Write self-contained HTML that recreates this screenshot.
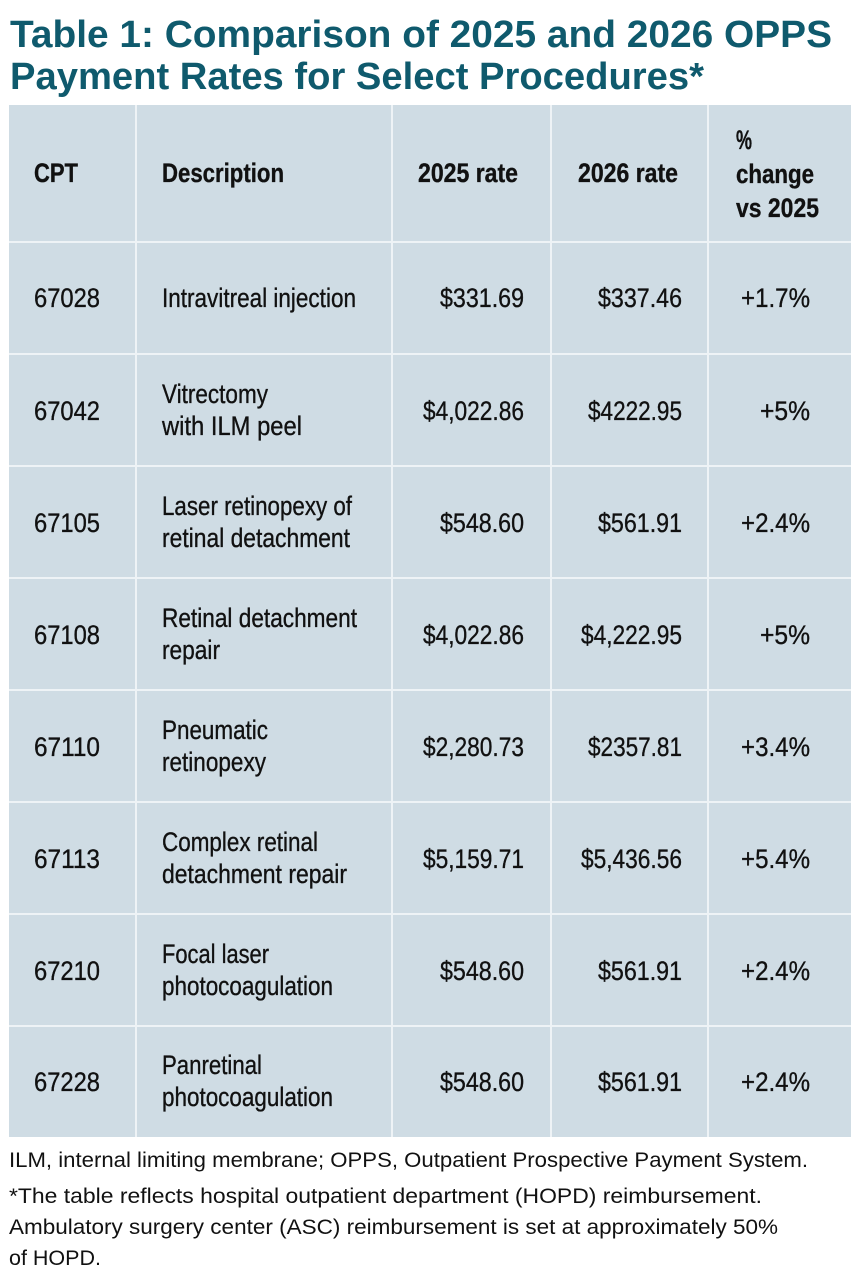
<!DOCTYPE html>
<html><head><meta charset="utf-8"><style>
html,body{margin:0;padding:0;background:#fff;}
svg{display:block;}
.t{font-family:"Liberation Sans",sans-serif;font-weight:bold;fill:#0f5a6d;font-size:38px;}
.c{font-family:"Liberation Sans Narrow","Liberation Sans",sans-serif;font-size:27px;fill:#111;stroke:#111;stroke-width:0.35;}
.h{font-weight:bold;}
.f{font-family:"Liberation Sans",sans-serif;font-size:21px;fill:#111;}
</style></head><body>
<svg width="867" height="1280" viewBox="0 0 867 1280" xmlns="http://www.w3.org/2000/svg">
<text class="t" x="10" y="47" textLength="822" lengthAdjust="spacingAndGlyphs">Table 1: Comparison of 2025 and 2026 OPPS</text>
<text class="t" x="10" y="89" textLength="694" lengthAdjust="spacingAndGlyphs">Payment Rates for Select Procedures*</text>
<rect x="9" y="105" width="842" height="1032" fill="#cfdce4"/>
<g stroke="#eef3f6" stroke-width="2">
<line x1="136" y1="105" x2="136" y2="1137"/>
<line x1="392" y1="105" x2="392" y2="1137"/>
<line x1="551" y1="105" x2="551" y2="1137"/>
<line x1="708" y1="105" x2="708" y2="1137"/>
<line x1="9" y1="242" x2="851" y2="242"/>
<line x1="9" y1="354" x2="851" y2="354"/>
<line x1="9" y1="466" x2="851" y2="466"/>
<line x1="9" y1="578" x2="851" y2="578"/>
<line x1="9" y1="690" x2="851" y2="690"/>
<line x1="9" y1="802" x2="851" y2="802"/>
<line x1="9" y1="914" x2="851" y2="914"/>
<line x1="9" y1="1026" x2="851" y2="1026"/>
</g>
<g class="c h">
<text x="34" y="182" textLength="44" lengthAdjust="spacingAndGlyphs">CPT</text>
<text x="162" y="182" textLength="122" lengthAdjust="spacingAndGlyphs">Description</text>
<text x="518" y="182" text-anchor="end" textLength="100" lengthAdjust="spacingAndGlyphs">2025 rate</text>
<text x="678" y="182" text-anchor="end" textLength="100" lengthAdjust="spacingAndGlyphs">2026 rate</text>
<text x="736" y="149" textLength="16" lengthAdjust="spacingAndGlyphs">%</text>
<text x="736" y="183" textLength="78" lengthAdjust="spacingAndGlyphs">change</text>
<text x="736" y="217" textLength="83" lengthAdjust="spacingAndGlyphs">vs 2025</text>
</g>
<g class="c">
<text x="34" y="307" textLength="66" lengthAdjust="spacingAndGlyphs">67028</text>
<text x="162" y="307" textLength="194" lengthAdjust="spacingAndGlyphs">Intravitreal injection</text>
<text x="524" y="307" text-anchor="end" textLength="84" lengthAdjust="spacingAndGlyphs">$331.69</text>
<text x="682" y="307" text-anchor="end" textLength="84" lengthAdjust="spacingAndGlyphs">$337.46</text>
<text x="810" y="307" text-anchor="end" textLength="69" lengthAdjust="spacingAndGlyphs">+1.7%</text>

<text x="34" y="420" textLength="66" lengthAdjust="spacingAndGlyphs">67042</text>
<text x="162" y="403" textLength="106" lengthAdjust="spacingAndGlyphs">Vitrectomy</text>
<text x="162" y="435" textLength="140" lengthAdjust="spacingAndGlyphs">with ILM peel</text>
<text x="524" y="420" text-anchor="end" textLength="101" lengthAdjust="spacingAndGlyphs">$4,022.86</text>
<text x="682" y="420" text-anchor="end" textLength="94" lengthAdjust="spacingAndGlyphs">$4222.95</text>
<text x="810" y="420" text-anchor="end" textLength="50" lengthAdjust="spacingAndGlyphs">+5%</text>

<text x="34" y="532" textLength="66" lengthAdjust="spacingAndGlyphs">67105</text>
<text x="162" y="515" textLength="190" lengthAdjust="spacingAndGlyphs">Laser retinopexy of</text>
<text x="162" y="547" textLength="188" lengthAdjust="spacingAndGlyphs">retinal detachment</text>
<text x="524" y="532" text-anchor="end" textLength="84" lengthAdjust="spacingAndGlyphs">$548.60</text>
<text x="682" y="532" text-anchor="end" textLength="84" lengthAdjust="spacingAndGlyphs">$561.91</text>
<text x="810" y="532" text-anchor="end" textLength="69" lengthAdjust="spacingAndGlyphs">+2.4%</text>

<text x="34" y="644" textLength="66" lengthAdjust="spacingAndGlyphs">67108</text>
<text x="162" y="627" textLength="195" lengthAdjust="spacingAndGlyphs">Retinal detachment</text>
<text x="162" y="659" textLength="58" lengthAdjust="spacingAndGlyphs">repair</text>
<text x="524" y="644" text-anchor="end" textLength="101" lengthAdjust="spacingAndGlyphs">$4,022.86</text>
<text x="682" y="644" text-anchor="end" textLength="101" lengthAdjust="spacingAndGlyphs">$4,222.95</text>
<text x="810" y="644" text-anchor="end" textLength="50" lengthAdjust="spacingAndGlyphs">+5%</text>

<text x="34" y="756" textLength="66" lengthAdjust="spacingAndGlyphs">67110</text>
<text x="162" y="739" textLength="106" lengthAdjust="spacingAndGlyphs">Pneumatic</text>
<text x="162" y="771" textLength="104" lengthAdjust="spacingAndGlyphs">retinopexy</text>
<text x="524" y="756" text-anchor="end" textLength="101" lengthAdjust="spacingAndGlyphs">$2,280.73</text>
<text x="682" y="756" text-anchor="end" textLength="94" lengthAdjust="spacingAndGlyphs">$2357.81</text>
<text x="810" y="756" text-anchor="end" textLength="69" lengthAdjust="spacingAndGlyphs">+3.4%</text>

<text x="34" y="868" textLength="66" lengthAdjust="spacingAndGlyphs">67113</text>
<text x="162" y="851" textLength="156" lengthAdjust="spacingAndGlyphs">Complex retinal</text>
<text x="162" y="883" textLength="185" lengthAdjust="spacingAndGlyphs">detachment repair</text>
<text x="524" y="868" text-anchor="end" textLength="101" lengthAdjust="spacingAndGlyphs">$5,159.71</text>
<text x="682" y="868" text-anchor="end" textLength="101" lengthAdjust="spacingAndGlyphs">$5,436.56</text>
<text x="810" y="868" text-anchor="end" textLength="69" lengthAdjust="spacingAndGlyphs">+5.4%</text>

<text x="34" y="980" textLength="66" lengthAdjust="spacingAndGlyphs">67210</text>
<text x="162" y="963" textLength="107" lengthAdjust="spacingAndGlyphs">Focal laser</text>
<text x="162" y="995" textLength="171" lengthAdjust="spacingAndGlyphs">photocoagulation</text>
<text x="524" y="980" text-anchor="end" textLength="84" lengthAdjust="spacingAndGlyphs">$548.60</text>
<text x="682" y="980" text-anchor="end" textLength="84" lengthAdjust="spacingAndGlyphs">$561.91</text>
<text x="810" y="980" text-anchor="end" textLength="69" lengthAdjust="spacingAndGlyphs">+2.4%</text>

<text x="34" y="1091" textLength="66" lengthAdjust="spacingAndGlyphs">67228</text>
<text x="162" y="1074" textLength="100" lengthAdjust="spacingAndGlyphs">Panretinal</text>
<text x="162" y="1106" textLength="171" lengthAdjust="spacingAndGlyphs">photocoagulation</text>
<text x="524" y="1091" text-anchor="end" textLength="84" lengthAdjust="spacingAndGlyphs">$548.60</text>
<text x="682" y="1091" text-anchor="end" textLength="84" lengthAdjust="spacingAndGlyphs">$561.91</text>
<text x="810" y="1091" text-anchor="end" textLength="69" lengthAdjust="spacingAndGlyphs">+2.4%</text>
</g>
<g class="f">
<text x="9" y="1167" textLength="799" lengthAdjust="spacingAndGlyphs">ILM, internal limiting membrane; OPPS, Outpatient Prospective Payment System.</text>
<text x="9" y="1203" textLength="753" lengthAdjust="spacingAndGlyphs">*The table reflects hospital outpatient department (HOPD) reimbursement.</text>
<text x="9" y="1234" textLength="769" lengthAdjust="spacingAndGlyphs">Ambulatory surgery center (ASC) reimbursement is set at approximately 50%</text>
<text x="9" y="1265" textLength="92" lengthAdjust="spacingAndGlyphs">of HOPD.</text>
</g>
</svg>
</body></html>
